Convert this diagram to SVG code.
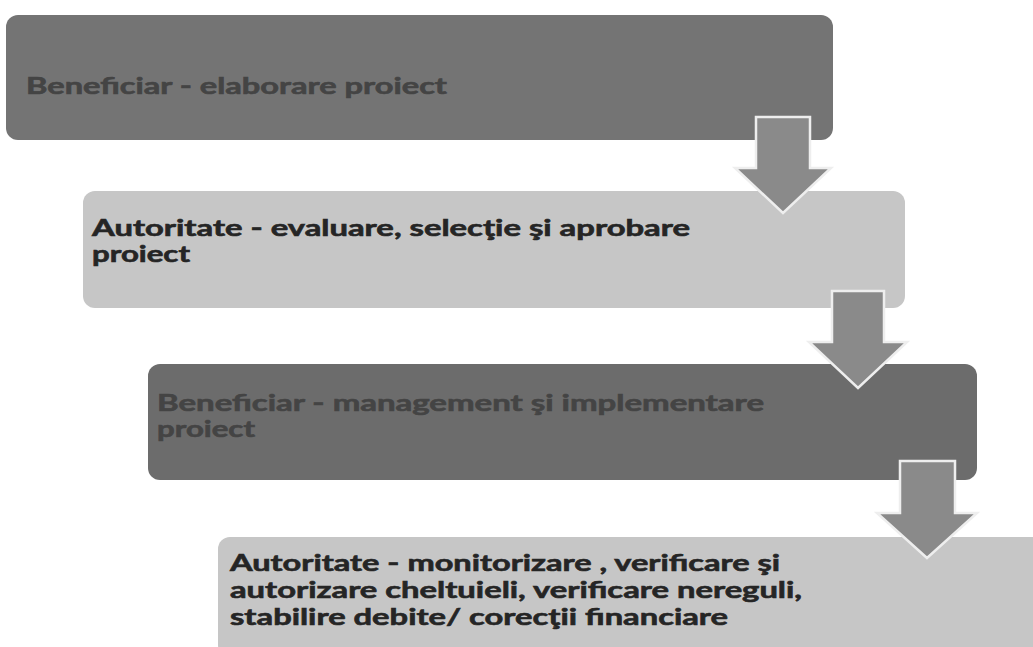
<svg xmlns="http://www.w3.org/2000/svg" width="1033" height="647" viewBox="0 0 1033 647">
  <style>
    .dark { fill: #747474; }
    .darker { fill: #6c6c6c; }
    .light { fill: #c6c6c6; }
    .lbl { font-family: Lato, "Open Sans", "Liberation Sans", sans-serif; font-weight: bold; font-size: 22px; stroke-width: 0.6; }
    .t-dark { fill: #444444; stroke: #444444; }
    .t-light { fill: #252525; stroke: #252525; }
    .arrow { fill: #8a8a8a; stroke: #eeeeee; stroke-width: 2.5; stroke-linejoin: miter; }
  </style>
  <rect width="1033" height="647" fill="#ffffff"/>
  <g id="node1">
    <rect class="dark" x="6" y="15" width="827" height="125" rx="12"/>
    <text class="lbl t-dark" x="26" y="94" textLength="421" lengthAdjust="spacingAndGlyphs">Beneficiar - elaborare proiect</text>
  </g>
  <g id="node2">
    <rect class="light" x="83" y="191" width="822" height="117" rx="12"/>
    <text class="lbl t-light" x="92" y="236" textLength="598" lengthAdjust="spacingAndGlyphs">Autoritate - evaluare, selecţie şi aprobare</text>
    <text class="lbl t-light" x="92" y="262" textLength="98" lengthAdjust="spacingAndGlyphs">proiect</text>
  </g>
  <g id="node3">
    <rect class="darker" x="148" y="364" width="829" height="116" rx="12"/>
    <text class="lbl t-dark" x="157" y="411" textLength="607" lengthAdjust="spacingAndGlyphs">Beneficiar - management şi implementare</text>
    <text class="lbl t-dark" x="157" y="437" textLength="98" lengthAdjust="spacingAndGlyphs">proiect</text>
  </g>
  <g id="node4">
    <rect class="light" x="218" y="537" width="830" height="120" rx="12"/>
    <text class="lbl t-light" x="230" y="571" textLength="550" lengthAdjust="spacingAndGlyphs">Autoritate - monitorizare , verificare şi</text>
    <text class="lbl t-light" x="230" y="598" textLength="572" lengthAdjust="spacingAndGlyphs">autorizare cheltuieli, verificare nereguli,</text>
    <text class="lbl t-light" x="230" y="625" textLength="498" lengthAdjust="spacingAndGlyphs">stabilire debite/ corecţii financiare</text>
  </g>
  <g id="connectors">
    <polygon class="arrow" points="756,117 810,117 810,168 831,168 783,213 735,168 756,168"/>
    <polygon class="arrow" points="832,291 884,291 884,342 907,342 858,388 809,342 832,342"/>
    <polygon class="arrow" points="900,461 955,461 955,513 977,513 927,558 877,513 900,513"/>
  </g>
</svg>
